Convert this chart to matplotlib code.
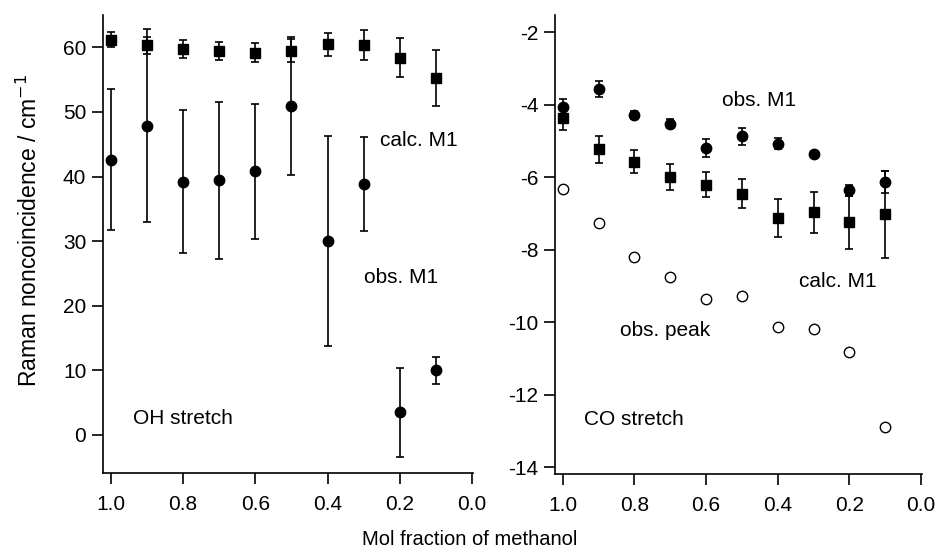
import matplotlib
matplotlib.use("Agg")
import matplotlib.pyplot as plt

plt.rcParams['font.family'] = ['Liberation Sans', 'DejaVu Sans']

# Mole fraction of methanol
x_frac = [1.0, 0.9, 0.8, 0.7, 0.6, 0.5, 0.4, 0.3, 0.2, 0.1]

# OH stretch noncoincidence (cm^-1)
oh_calc = [61.2, 60.3, 59.7, 59.5, 59.2, 59.5, 60.5, 60.4, 58.4, 55.3]
oh_calc_err = [1.2, 1.3, 1.4, 1.4, 1.5, 1.8, 1.8, 2.3, 3.0, 4.3]
oh_obs = [42.6, 47.9, 39.2, 39.4, 40.8, 50.9, 30.0, 38.8, 3.5, 10.0]
oh_obs_err = [10.9, 14.9, 11.1, 12.1, 10.4, 10.7, 16.3, 7.3, 6.9, 2.1]

# CO stretch noncoincidence (cm^-1)
co_obs = [-4.08, -3.57, -4.29, -4.53, -5.19, -4.88, -5.08, -5.37, -6.37, -6.13]
co_obs_err = [0.23, 0.23, 0.10, 0.12, 0.25, 0.23, 0.15, 0.08, 0.16, 0.31]
co_calc = [-4.36, -5.24, -5.58, -5.99, -6.21, -6.46, -7.13, -6.97, -7.25, -7.02]
co_calc_err = [0.33, 0.36, 0.32, 0.36, 0.35, 0.40, 0.52, 0.56, 0.74, 1.20]
co_peak = [-6.32, -7.26, -8.20, -8.77, -9.36, -9.29, -10.13, -10.18, -10.82, -12.89]

x_ticks = [1.0, 0.8, 0.6, 0.4, 0.2, 0.0]
x_tick_labels = ["1.0", "0.8", "0.6", "0.4", "0.2", "0.0"]
oh_yticks = [0, 10, 20, 30, 40, 50, 60]
co_yticks = [-14, -12, -10, -8, -6, -4, -2]

fig = plt.figure(figsize=(9.39, 5.53), dpi=100)
ax1 = fig.add_axes([0.1097, 0.1447, 0.394, 0.828])
ax2 = fig.add_axes([0.591, 0.1429, 0.391, 0.830])

fs = 15
eb = dict(fmt='none', ecolor='black', elinewidth=1.2, capsize=3.2, capthick=1.2, zorder=2)

# OH stretch panel
ax1.errorbar(x_frac, oh_calc, yerr=oh_calc_err, **eb)
ax1.errorbar(x_frac, oh_obs, yerr=oh_obs_err, **eb)
ax1.plot(x_frac, oh_calc, 's', color='black', ms=7, zorder=3)
ax1.plot(x_frac, oh_obs, 'o', color='black', ms=7.5, zorder=3)
ax1.set_xlim(1.022, -0.003)
ax1.set_ylim(-5.9, 65)
ax1.set_yticks(oh_yticks)
ax1.text(0.146, 45.6, "calc. M1", ha='center', va='center', fontsize=fs)
ax1.text(0.196, 24.3, "obs. M1", ha='center', va='center', fontsize=fs)
ax1.text(0.939, 2.5, "OH stretch", ha='left', va='center', fontsize=fs)
ax1.set_ylabel("Raman noncoincidence / cm$^{-1}$", fontsize=16.5)
ax1.yaxis.set_label_coords(-0.165, 0.53)

# CO stretch panel
ax2.errorbar(x_frac, co_obs, yerr=co_obs_err, **eb)
ax2.errorbar(x_frac, co_calc, yerr=co_calc_err, **eb)
ax2.plot(x_frac, co_obs, 'o', color='black', ms=7.5, zorder=3)
ax2.plot(x_frac, co_calc, 's', color='black', ms=7, zorder=3)
ax2.plot(x_frac, co_peak, 'o', mfc='white', mec='black', mew=1.0, ms=7.5, zorder=3)
ax2.set_xlim(1.022, -0.003)
ax2.set_ylim(-14.19, -1.53)
ax2.set_yticks(co_yticks)
ax2.set_yticklabels([str(v) for v in co_yticks])
ax2.text(0.453, -3.88, "obs. M1", ha='center', va='center', fontsize=fs)
ax2.text(0.231, -8.89, "calc. M1", ha='center', va='center', fontsize=fs)
ax2.text(0.714, -10.24, "obs. peak", ha='center', va='center', fontsize=fs)
ax2.text(0.942, -12.7, "CO stretch", ha='left', va='center', fontsize=fs)

for ax in (ax1, ax2):
    ax.set_xticks(x_ticks)
    ax.set_xticklabels(x_tick_labels)
    ax.spines['top'].set_visible(False)
    ax.spines['right'].set_visible(False)
    for s in ('left', 'bottom'):
        ax.spines[s].set_linewidth(1.2)
    ax.tick_params(direction='out', length=8, width=1.2, labelsize=fs)
    ax.tick_params(axis='x', pad=8)
    ax.tick_params(axis='y', pad=4)

fig.text(0.5, 0.025, "Mol fraction of methanol", ha='center', va='center', fontsize=14.5)

fig.savefig("out.png", dpi=100)
